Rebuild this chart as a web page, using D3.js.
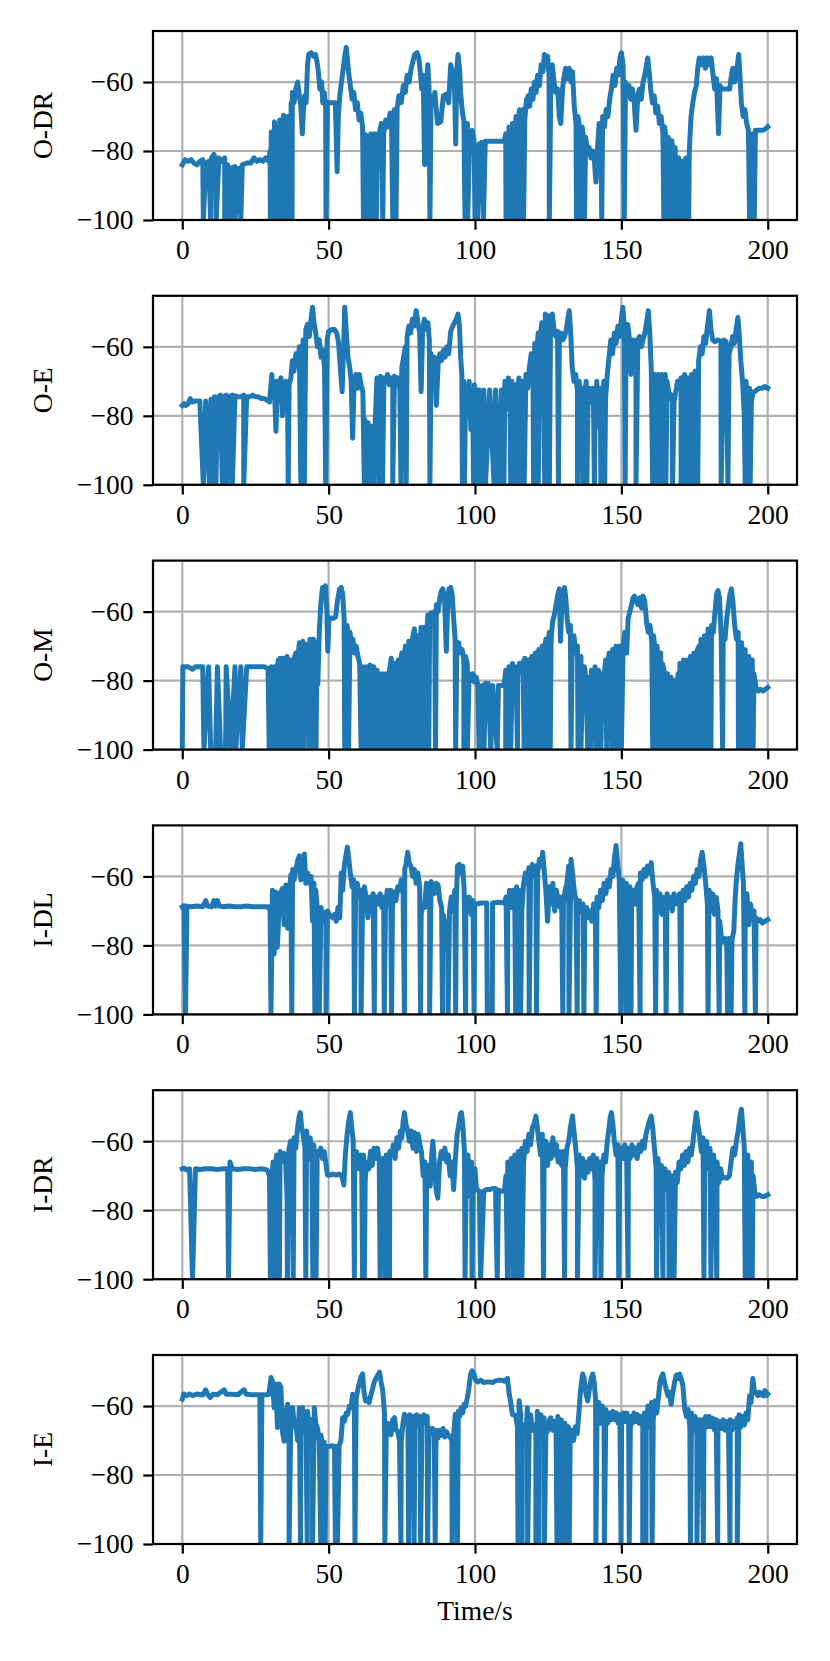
<!DOCTYPE html>
<html>
<head>
<meta charset="utf-8">
<title>RSSI traces</title>
<script src="https://cdn.jsdelivr.net/npm/d3@7"></script>
<style>
  body { margin: 0; background: #fff; }
</style>
</head>
<body>
<div id="chart"></div>
<script>
var panels = ["O-DR", "O-E", "O-M", "I-DL", "I-DR", "I-E"];
var xTicks = [0, 50, 100, 150, 200];
var yTicks = [-100, -80, -60];

// [time s, RSSI dBm]; drop-outs (to the floor) are kept as separate time lists
var oDR = [[0,-84],[1,-82.5],[2,-83],[3,-82.5],[4,-83.5],[5,-84],[6,-83],[7,-82.5],[8,-83.5],[9,-83],[10,-82],[10.8,-81],[11.5,-82.5],[12.5,-82],[13.5,-83],[14.5,-82],[15.5,-84],[16.5,-85],[18,-84.5],[19.5,-85],[20.5,-84],[22,-83.5],[23.4,-83.5],[24.5,-82],[25.5,-83],[26.5,-82.5],[27.5,-83],[28.5,-82],[29.5,-83],
[30,-80],[30.4,-74.5],[30.9,-76],[31.5,-71.5],[32,-78],[32.6,-73],[33.3,-71],[33.7,-80],[34.2,-73],[34.6,-69.6],[35.2,-75],[36,-70],[36.5,-74],[37.2,-66],
[37.6,-63],[38.2,-66],[38.8,-62],[39.4,-60],[40,-64],[40.5,-67],[41,-75],[41.4,-68],[41.8,-64],[42.3,-66],
[42.8,-55],[43.2,-52],[44,-51.5],[44.8,-52.5],[45.5,-52],[46,-54],
[46.5,-57],[47,-62],[47.6,-60],[48,-66],[48.5,-63],[49,-68],
[49.6,-66],[50.5,-66],[51.5,-66],[52.3,-66],[52.9,-86],[53.3,-70],
[53.8,-64],[54.4,-60],[55,-56],[55.6,-52],[56,-50],[56.4,-53],[56.8,-57],
[57.4,-61],[58,-65],[58.6,-63],[59.2,-68],[59.8,-66],[60.4,-71],[61,-69],[61.6,-73],[62.2,-75],
[62.8,-75.5],[63.6,-76],[64.4,-75],[65,-76],[65.8,-75],[66.6,-76],
[67.4,-74.5],[68,-72],[68.8,-75],[69.5,-71],[70.2,-73],[71,-69],[71.5,-72],[72.4,-68],[73.4,-67.5],
[74,-64],[74.8,-66],[75.5,-61],[76.2,-63],[76.8,-58],[77.5,-60],[78.2,-56],[78.8,-54],[79.4,-52],[80.2,-51.5],[80.8,-53],
[81.3,-57],[81.8,-62],[82.3,-58],[82.8,-84],[83.2,-64],[83.9,-55],[84.3,-62],
[85,-64],[85.6,-66],[86.3,-63],[87.2,-72],[88.3,-71.5],[89.2,-64],[90.2,-63.5],
[91,-66],[91.7,-55],[92.4,-58],[93,-61],[93.4,-78],[93.8,-56],[94.2,-52],[94.7,-56],[95.1,-63],[95.6,-68],[96.2,-71.5],[96.8,-73],[97.4,-72],[98.2,-75],[99,-74],[99.7,-77],[100.4,-79],
[101.4,-78],[102.2,-77.5],[103.5,-77.2],[105,-77.2],[107,-77.2],[109,-77.2],[110,-77.2],
[110.5,-75],[111,-78],[111.6,-73],[112.2,-79],[112.8,-72],[113.4,-76],[114,-70],[114.6,-75],[115.2,-68],[115.8,-73],[116.4,-68],[117,-71],[117.6,-65],
[118.2,-64],[118.7,-67],[119.2,-62],[119.8,-65],[120.3,-60],[120.9,-63],[121.4,-58],[122,-61],[122.6,-55],[123.2,-57],[123.7,-52],[124.3,-54],[124.8,-52.5],[125.3,-58],[125.9,-61],[126.4,-55],[127,-60],
[127.6,-63],[128.2,-62],[128.8,-70],[129.3,-72],[129.9,-62],[130.5,-58],[131,-56],[131.6,-59],[132.2,-56],[132.8,-60],[133.3,-57],[133.9,-67],
[134.5,-72],[135.2,-70],[135.8,-74],[136.6,-73],[137.2,-77],[137.8,-76],[138.4,-80],
[139,-79],[139.6,-82],[140.2,-80],[140.8,-83],[141.3,-89],[141.8,-80],
[142.4,-72],[143,-74],[143.6,-70],[144.2,-73],[144.8,-68],[145.4,-70],[146,-65],
[146.6,-62],[147.2,-58],[147.8,-61],[148.4,-56],[149,-58],[149.5,-53],[150,-51.5],[150.6,-55],
[151.4,-60],[152,-63],[152.6,-61],[153.2,-65],[153.8,-62],[154.4,-66],[155,-74],[155.6,-64],[156.2,-62],[156.8,-65],[157.4,-60],
[158,-58],[158.6,-55],[159,-53],[159.5,-57],
[160,-62],[160.6,-66],[161.2,-64],[161.8,-69],[162.4,-67],[163,-72],[163.6,-70],[164.2,-75],[164.8,-73],[165.4,-78],[166,-76],[166.6,-79],[167.2,-77],
[167.8,-81],[168.4,-79],[169,-84],[169.6,-82],[170.2,-88],[170.8,-83],[171.4,-86],[172,-82],[172.6,-85],[173.2,-80],
[173.8,-70],[174.4,-66],[175,-63],[175.6,-61],
[176.1,-56],[176.6,-53],[177.3,-55],[178,-53],[178.7,-56],[179.4,-53],[180.1,-55],[180.7,-53],
[181.3,-58],[181.9,-62],[182.5,-59],[183.2,-75],[183.7,-61],
[184.2,-62],[185,-62],[186,-62],[187,-62],
[187.6,-58],[188.1,-56],[188.7,-60],[189.3,-57],[189.8,-54],[190.1,-52],[190.5,-58],
[191,-66],[191.6,-70],[192.2,-68],[192.8,-72],[193.4,-74],
[194.2,-76],[195,-75],[195.8,-74],[196.5,-74],[197.5,-74],[198.5,-74],[199.3,-73.5],[200,-73]];
var oDRDrops = [7.2,9.7,11.6,14.5,16.3,18,20,30.1,30.7,31.2,31.8,32.3,33.1,33.9,34.8,35.7,36.8,37.5,49.1,61.9,63.2,64,64.7,65.5,66.3,68.5,71.9,73,84.6,96.6,97.5,100,100.9,102.9,110.6,111.4,112.4,113.5,114.4,115.5,116.6,125.4,134.7,136.3,137.4,143.3,151,164.5,165.7,167,168.5,170,171.4,173,193.8,194.6,195.4];

var oE = [[0,-77],[0.6,-76.5],[1.2,-77],[2,-76.5],[2.7,-75],[3.4,-76],[4.5,-75.7],[6,-75.7],[8,-75.7],[9.8,-75.2],[11,-74.5],[12,-74.7],[13,-74],[14,-74.5],[15,-74],[16,-74.5],[17,-74],[18,-74.2],[19,-74.5],[20,-74.5],[21,-74],[22,-74.5],[23,-74.5],[24,-74],[25,-74.5],[26,-74.5],[27,-75],[28,-75],[29,-75.5],
[29.8,-76],[30.2,-72],[30.6,-68],[31,-74],[31.4,-70],[32,-84.5],[32.5,-70],[33.1,-71],[33.7,-69],[34.2,-80],[34.8,-71],[35.4,-70],[36,-78],[36.5,-71],[37.1,-69],
[37.6,-64],[38.2,-67],[38.8,-62],[39.4,-65],[40,-60],[40.8,-63],[41.3,-58],
[42.2,-55],[42.8,-53.5],[43.4,-57],[44,-52],[44.5,-48.5],[45,-53],[45.6,-56],[46.2,-60],
[46.8,-58],[47.4,-63],[48,-61],[48.6,-66],
[49.5,-58],[50,-55.5],[51,-55],[52,-55],[52.8,-56],[53.4,-59],
[54,-66],[54.6,-73],[55.2,-58],[55.5,-48.5],[56,-55],
[56.6,-63],[57.2,-66],[57.7,-70],[58.2,-86.5],[58.7,-70],[59.3,-68],[59.9,-72],[60.5,-68],[61.1,-71],[61.7,-73],
[62.3,-81],[62.9,-85],[63.5,-82],[64.1,-87],[64.7,-83],[65.3,-86],[65.9,-82],
[66.5,-69],[67.1,-70],[67.7,-68.5],[68.3,-70],[68.9,-69],
[69.5,-70],[70.1,-68],[70.7,-71],[71.3,-69],[71.9,-70],[72.5,-68.5],[73.1,-71],[73.7,-69],[74.3,-70],
[75,-66],[75.6,-63],[76.2,-60],[76.8,-57],[77.4,-54],[78,-56],
[78.6,-52],[79.2,-54],[79.9,-49.5],[80.5,-53],[81.1,-56],[81.6,-73],[82.1,-55],[82.7,-52],[83.3,-55],[83.9,-53],[84.4,-58],
[85,-62],[85.6,-66],[86.2,-63],[86.8,-77],[87.4,-65],[88,-62],[88.6,-64],[89.2,-61],[89.8,-63],[90.4,-60],
[91,-62],[91.7,-55.5],[92.4,-54],[93,-53],[93.6,-52],[94.2,-50.5],[94.7,-54],[95.1,-63],[95.5,-68],[96.2,-70],[96.8,-72],[97.4,-80],[98,-70],[98.6,-84],[99.2,-74],[99.8,-71],
[100.6,-72.5],[101.5,-72.5],[103,-72.5],[105,-72.5],[107,-72.5],[109,-72.5],
[109.6,-74],[110.2,-70],[110.8,-78],[111.4,-69],[112,-76],[112.6,-70],[113.2,-82],[113.8,-71],[114.4,-75],[115,-69],[115.6,-84],[116.2,-70],[116.8,-74],[117.4,-68],[118,-72],[118.6,-66],
[119.2,-62],[119.8,-65],[120.4,-59],[121,-62],[121.6,-56],[122.2,-58],[122.8,-53],[123.4,-56],
[124,-50.5],[124.6,-53],[125.2,-51],[125.8,-54],[126.4,-50.5],[127,-55],
[127.6,-57],[128.2,-55.5],[128.8,-58],[129.4,-56],[130,-58],[130.6,-57],[131.2,-55],[131.7,-52],[132.2,-49.5],[132.7,-56],
[133.2,-66],[133.8,-70],[134.4,-68],[135,-73],[135.6,-70],[136.2,-76],[136.8,-72],[137.4,-74],[138,-70],[138.6,-75],[139.2,-72],[139.8,-76],
[140.4,-72],[141,-80],[141.6,-70],[142.2,-83],[142.8,-72],[143.4,-78],[144,-70],[144.6,-75],[145.2,-68],
[145.8,-63],[146.4,-58],[147,-62],[147.6,-56],[148.2,-59],[148.8,-54],[149.4,-57],[150,-52],[150.5,-48.5],[151,-54],
[151.6,-57],[152.2,-53.5],[152.8,-58],[153.3,-68],[153.8,-58],[154.4,-60],[155,-58],[155.6,-60],[156.2,-57],[156.8,-60],[157.4,-58],[158,-56],[158.6,-53],[159.2,-49.5],[159.7,-56],
[160.2,-66],[160.8,-70],[161.4,-68],[162,-70],[162.6,-68],[163.2,-71],[163.8,-68],[164.4,-70],[165,-68],[165.6,-70],
[166.2,-73],[166.8,-75],[167.4,-74],[168,-76],[168.6,-73],
[169.2,-70],[169.8,-72],[170.4,-69],[171,-71],[171.6,-68],[172.2,-72],[172.8,-69],[173.4,-71],[174,-68],[174.6,-70],[175.2,-67],[175.8,-69],
[176.4,-64],[177,-60],[177.6,-62],[178.2,-57],[178.8,-59],[179.4,-54],[180.1,-49.5],[180.6,-55],
[181.2,-58],[182,-58.5],[183,-58],[184,-58.5],[185,-58],[185.8,-58.5],
[186.8,-62],[187.4,-60],[188,-57],[188.6,-59],[189.2,-55],[189.8,-51.5],[190.3,-57],
[190.8,-64],[191.4,-70],[192,-80],[192.6,-70],[193.2,-84],[193.8,-72],[194.4,-76],[195,-73],
[195.6,-73],[196.3,-72.5],[197,-72],[198,-72],[199,-71.5],[200,-72]];
var oEDrops = [7.2,9.3,10.4,11.5,13.7,15.3,17.1,21,36.2,40.5,41.7,49,62.2,63.8,65.5,67.3,68.4,71.9,74.7,76.5,84.6,95.7,96.4,99.5,100.2,101.9,103.6,106.5,108.2,109.9,112.2,113.9,115.6,116.8,120,121.6,123.8,125.4,128.5,135,136.8,138.2,140.8,143,144.3,151.3,155,160.7,162.4,163.8,165.2,167.5,170.4,171.8,173.3,174.8,176.1,184.1,186.4,192.3,194];

var oM = [[0,-100],[0.2,-76],[2,-76],[3.5,-76.7],[4.5,-76],[7,-76],[9,-76],[12,-76],[15,-76],[18,-76],[20,-76],[22,-76],[25,-76],[28,-76],[29.3,-76.5],
[29.8,-78],[30.4,-76],[31,-77.5],[31.6,-76],[32.2,-78],
[32.8,-74],[33.4,-73.5],[34,-75.5],[34.6,-73.5],[35.2,-75],[35.8,-73],[36.4,-75.5],[37,-74],[37.6,-75],[38.2,-73.5],[38.8,-72],[39.4,-74],[40,-69],[40.6,-72],[41.2,-68.6],[41.8,-71],[42.4,-69.5],[43,-72],[43.6,-68],[44.2,-70],[44.8,-68],[45.4,-71],[46,-69],
[46.3,-81],[46.8,-66],[47.3,-58],[47.9,-53],[48.4,-55],[48.9,-52.5],
[49.4,-60],[49.7,-71.5],[50.1,-62],
[50.8,-61.8],[51.6,-62],[52.4,-61.5],
[53,-57],[53.7,-53.5],[54.3,-53],[54.8,-55],
[55.3,-62],[55.8,-66],[56.3,-64],[56.8,-68],[57.3,-66],[57.8,-70],[58.3,-68],[58.8,-72],[59.4,-70],[60,-73],
[60.6,-75],[61.2,-78],[61.8,-76],[62.4,-79],[63,-76],[63.6,-78],[64.2,-75.5],[64.8,-79],[65.4,-76],[66,-78],[66.6,-77],
[67.2,-78],[67.8,-80],[68.4,-78],[69,-80.5],[69.6,-78],[70.2,-79],[70.8,-77],
[71.4,-73.5],[72,-77],[72.6,-75],[73.2,-77],[73.8,-74],[74.4,-76],[75,-72],[75.6,-75],[76.2,-70],[76.8,-73],[77.4,-68.6],[78,-72],
[78.6,-68],[79.3,-65],[79.9,-69],[80.5,-67],[81.1,-70],[81.6,-64.5],[82.2,-68],[82.8,-64.5],[83.4,-67],[83.9,-61],[84.5,-64],[85,-60.3],[85.6,-63],[86.2,-60],
[86.8,-58],[87.4,-60],[88,-56],[88.5,-54],[89,-53.4],[89.6,-56],[90.2,-71.5],[90.6,-60],
[91.1,-53.4],[91.7,-53],[92.2,-55],
[92.7,-62],[93.2,-68],[93.8,-70],[94.4,-69],[95,-72],[95.6,-71],[96.2,-74],[96.8,-73],[97.4,-75.5],
[98,-78],[98.6,-80],[99.2,-78],[99.8,-80.4],[100.4,-79],
[101,-81.4],[102.5,-81.4],[103.5,-80.8],[104.5,-80.8],[106,-81.4],[108,-81.4],[109.9,-81.4],
[110.5,-77],[111,-80],[111.6,-76],[112.2,-79],[112.8,-75],[113.4,-78],[114,-76],[114.6,-79],[115.2,-75],[115.8,-77],[116.4,-74.5],
[117,-73.5],[117.6,-76],[118.2,-74],[118.8,-76],[119.4,-73],[120,-75],[120.6,-72],[121.2,-74],[121.8,-71],[122.4,-73],[123,-70],[123.6,-72],[124.2,-68],[124.8,-70],[125.4,-66],[126,-68],
[126.5,-63],[127.1,-61],[127.7,-58],[128.3,-55],[128.8,-53.4],[129.2,-68.6],
[129.7,-58],[130.2,-54],[130.6,-53],[131,-56],
[131.5,-62],[132,-66],[132.6,-64],[133.2,-69],[133.8,-67],[134.4,-72],[135,-70],[135.6,-75],[136.2,-73],[136.8,-78],[137.4,-76],[138,-81],[138.6,-79],
[139.2,-81],[139.8,-77],[140.4,-82],[141,-76],[141.6,-81],[142.2,-77],[142.8,-82],[143.4,-78],[144,-80],
[144.6,-74],[145.2,-78],[145.8,-72],[146.4,-76],[147,-71],[147.6,-75],[148.2,-70],[148.8,-73],[149.4,-70],[150,-72],[150.6,-70],
[151.2,-66],[151.8,-72],[152.3,-62],[152.9,-60],[153.5,-58],[154,-56],
[154.5,-55.5],[155.1,-57],[155.7,-58],[156.3,-56],[156.9,-59],[157.4,-55.5],[158,-57],
[158.6,-63],[159.2,-66],[159.8,-64],[160.4,-69],[161,-67],[161.6,-72],[162.2,-70],[162.8,-74],[163.4,-72],[164,-75],
[164.6,-77],[165.2,-80],[165.8,-78],[166.4,-83],[167,-79],[167.6,-84],[168.2,-80],[168.8,-83],
[169.4,-78],[170,-75],[170.6,-80],[171.2,-74],[171.8,-79],[172.4,-74],[173,-78],[173.6,-73],[174.2,-77],[174.8,-72],[175.4,-75],[176,-71],
[176.6,-70],[177.2,-68],[177.8,-71],[178.4,-67],[179,-69],[179.6,-65],[180.2,-68],[180.8,-64],[181.4,-66],
[182,-60],[182.5,-55],[183,-53.9],[183.5,-56],
[184.1,-67],[184.8,-66],[185.4,-68],
[186,-62],[186.6,-58],[187.1,-55],[187.6,-53.4],[188.1,-57],
[188.7,-64],[189.3,-68],[189.9,-66],[190.5,-71],[191.1,-69],[191.7,-73],[192.3,-71],[192.9,-75],[193.5,-73],[194.1,-76],[194.7,-74],[195.3,-78],
[196,-82],[196.8,-83],[197.6,-82.5],[198.4,-83],[199.2,-82.5],[200,-82]];
var oMDrops = [7.4,9.7,11.4,13.1,14.8,16.6,18.3,20.5,29.7,30.3,30.9,31.5,32.1,33.1,34.2,35.4,36.5,37.7,38.8,40.3,41.5,43.3,44.5,45.7,55.5,56.8,61.1,62.7,63.4,64.5,65.6,66.8,67.8,69,70.3,71.8,73,74.3,75.5,76.8,78,79.6,80.8,82,83.2,84.2,86.5,93.4,96.2,97.4,101.4,103.1,105.4,107.6,110.5,112.2,114.5,116.8,117.4,118.6,119.8,121,122.3,123.5,124.5,125.7,132.8,135.2,136.2,138.5,139.5,141.3,143,145,146.8,148.3,150,160.7,162.3,163.8,164.8,166,167.3,168.5,169.6,170.9,172,173.2,174.4,175.7,177,178.2,179.4,180.6,184.6,190,191.5,192.6,193.8,195];

var iDL = [[0,-68.8],[0.6,-68.5],[1.6,-68.6],[3,-68.8],[5,-68.6],[7,-68.8],[8,-67],[8.6,-68.6],[10,-68.8],[10.8,-67],[11.4,-68.6],[12,-67],[12.6,-68.6],[14,-68.8],[16,-68.6],[18,-68.8],[20,-68.8],[22,-68.6],[24,-68.8],[26,-68.8],[28,-68.8],[29.5,-68.8],
[30,-70],[30.8,-64],[31.4,-82.5],[32,-64.5],[32.5,-80.5],[33.1,-68],[33.7,-64.5],[34.2,-63.5],[34.8,-74],[35.4,-62.5],[36,-75],[36.6,-64],[37.1,-59.5],
[37.7,-58],[38.2,-61],[38.8,-58],[39.4,-55.5],[40,-54],[40.5,-61],[41.1,-55.5],[41.7,-53.5],[42.2,-62],[42.8,-59],
[43.4,-62],[44,-60],[44.5,-73],[45,-62],[45.6,-64],
[46.2,-70],[46.8,-74],[47.4,-69],[48,-72],[48.6,-70.5],[49.1,-74],
[49.6,-70],[50.2,-71],[50.8,-71.5],
[51.4,-72],[52,-71],[52.6,-73],[53.2,-69],[53.8,-72],[54.3,-59],[54.8,-64],[55.4,-56.5],
[55.9,-54],[56.4,-51.5],[56.9,-55],
[57.4,-59],[58,-63],[58.6,-61],[59.2,-66],[59.8,-62],[60.4,-66],[61,-64],[61.6,-67],[62.2,-63],
[62.8,-66],[63.4,-72],[64,-66],
[64.6,-67],[65.2,-65],[65.8,-68],[66.4,-66],[67,-68],[67.6,-65],[68.2,-69],
[68.8,-66],[69.4,-70],[70,-64],[70.6,-68],[71.2,-64],[71.8,-69],[72.4,-64.5],[73,-67],[73.6,-63],
[74.2,-64],[74.8,-61],[75.4,-63],[76,-58],[76.5,-56],[77,-53],[77.5,-56],[78.1,-57],
[78.7,-60],[79.3,-58],[79.9,-62],[80.5,-59],[81.1,-63],[81.6,-71],[82.2,-68],[82.8,-69],[83.4,-62],[83.9,-64],[84.5,-66],[85,-61.5],[85.6,-63],
[86.2,-65],[86.8,-62],[87.4,-62.5],[88,-67],[88.6,-69],[89.1,-71],[89.6,-73],[90.2,-81],[90.8,-74],
[91.3,-70],[91.9,-66],[92.5,-70],[93.1,-64],[93.6,-68],[94,-57],[94.6,-56.5],[95.2,-59],[95.8,-57],[96.3,-64],
[96.9,-66],[97.5,-70],[98.1,-66],[98.7,-71],[99.3,-67],[99.9,-68],
[100.5,-68],[102,-67.7],[104,-67.7],[106,-67.7],[108,-67.5],[110,-67.7],
[110.6,-66],[111.2,-70],[111.8,-64],[112.4,-69],[113,-64],[113.6,-70],[114.2,-63],[114.8,-68],[115.4,-64],[116,-70],[116.6,-62],
[117.2,-59],[117.8,-62],[118.4,-57.5],[119,-60],[119.6,-56.5],[120.2,-60],[120.8,-57],[121.4,-59],[122,-55],[122.6,-57],[123.1,-53],
[123.6,-58],[124.2,-64],[124.8,-73],[125.4,-63],[126,-68],[126.6,-62],[127.2,-70],[127.8,-64],
[128.4,-67],[129,-69],[129.6,-66],[130.2,-68],[130.8,-64],[131.4,-62],[132,-57],[132.8,-55],[133.3,-59],[133.9,-64],[134.5,-67],[135.1,-69],[135.7,-67],[136.3,-70],[136.9,-68],[137.5,-71],[138.1,-69],[138.7,-72],[139.3,-70],[139.9,-73],
[140.5,-68],[141.1,-70],[141.7,-66],[142.3,-69],[142.9,-64],[143.5,-67],[144.1,-62],[144.7,-65],[145.3,-61],[145.9,-63],[146.5,-58],[147.1,-60],[147.6,-55],[148.2,-51],[148.7,-56],
[149.3,-61],[149.9,-66],[150.5,-61],[151.1,-67],[151.7,-62],[152.3,-68],[152.9,-63],[153.5,-69],[154.1,-64],[154.7,-68],[155.3,-63],
[155.9,-62],[156.5,-59],[157.1,-61],[157.7,-58],[158.3,-60],[158.9,-57],[159.5,-59],[160.2,-56],
[160.8,-62],[161.4,-66],[162,-64],[162.6,-70],[163.2,-65],[163.8,-71],[164.4,-66],[165,-70],[165.6,-65],[166.2,-69],[166.8,-66],[167.4,-70],[168,-65],[168.6,-68],
[169.3,-67],[169.9,-65],[170.5,-68],[171.1,-64],[171.7,-67],[172.3,-63],[172.9,-66],[173.5,-62],[174.1,-64],[174.7,-60],[175.3,-62],[175.9,-58],[176.5,-60],[177.1,-55],[177.6,-53],[178.2,-57],
[178.8,-62],[179.4,-68],[180,-64],[180.6,-70],[181.2,-65],[181.8,-71],[182.4,-66],[183,-70],[183.6,-73],
[184.2,-78],[184.8,-79],[185.4,-78],[186,-79],[186.6,-78],[187.2,-79],[187.8,-78],[188.4,-76],
[188.9,-66],[189.4,-60],[189.9,-56],[190.4,-53],[190.8,-50.5],[191.2,-56],
[191.7,-62],[192.3,-70],[192.9,-65],[193.5,-74],[194.1,-68],[194.7,-72],[195.3,-70],
[196,-72],[196.7,-73],[197.4,-72.5],[198.2,-73.5],[199,-73],[200,-72.5]];
var iDLDrops = [1.1,30.3,37.4,45.3,46.8,49.1,58.8,61.1,65.6,69,71.5,75.9,81.4,84.5,88.9,90.8,93.4,96.8,99.7,104.2,105.9,111.1,113.9,115.6,118.5,121,130,132.1,134.9,137.2,141.4,149.8,151.6,153.3,156.4,161.7,165.3,170.4,179.6,183.4,186.3,187.5,192.2,195.8];

var iDR = [[0,-68],[0.6,-67.8],[1.5,-68.3],[2.5,-68],[4.5,-68],[6,-68.2],[8,-68],[10,-68],[12,-68.2],[14,-68],[15.5,-68],[16.3,-66],[17,-68],[19,-68.2],[21,-68],[23,-68],[25,-68.2],[27,-68],[29,-68.3],
[29.8,-70],[30.4,-75],[31,-66],[31.6,-78],[32.2,-64],
[32.8,-65],[33.4,-63],[34,-66],[34.6,-63.5],[35.2,-64],[35.8,-76],[36.4,-62.5],[37,-60],
[37.6,-61],[38.2,-59],[38.8,-62],[39.4,-56],[39.9,-53],[40.3,-51.7],[40.8,-56],
[41.3,-58],[41.9,-62],[42.5,-57],[43.1,-65],[43.7,-59],[44.3,-66],[44.9,-61],[45.5,-68],[46.1,-63],
[46.7,-64],[47.3,-62],[47.9,-65],[48.5,-63],[49,-66],
[49.6,-69.8],[50.5,-69.8],[51.5,-69.5],[52.5,-69.8],[53.5,-69.5],[54.5,-70],[55.2,-72.7],[55.7,-64],
[56.3,-58],[56.9,-54],[57.4,-51.7],[57.9,-56],
[58.4,-60],[58.9,-67],[59.5,-63],[60.1,-68],[60.7,-64],[61.3,-67],[61.9,-64],[62.5,-70.7],[63.1,-66],[63.7,-68],[64.3,-63],[64.9,-67],[65.5,-62],[66.1,-65],[66.7,-62],
[67.3,-66],[67.9,-72],[68.5,-65],[69.1,-72.5],[69.7,-64],[70.3,-70],[70.9,-63],
[71.5,-64],[72.1,-61],[72.7,-65],[73.3,-59],[73.9,-62],[74.5,-57],[75,-59],[75.5,-54],[75.9,-51.7],[76.4,-55],
[77,-57],[77.6,-60],[78.2,-57],[78.8,-62],[79.4,-57.5],[80,-63],[80.6,-58],[81.2,-61],
[81.7,-63],[82.3,-70],[82.9,-66],[83.5,-69],[84.1,-67],[84.7,-73],[85.2,-64],[85.6,-60],[86.2,-68],[86.7,-74],[87.3,-76.5],
[87.9,-66],[88.5,-63],[89.1,-65],[89.7,-62],[90.3,-66],[90.9,-64],
[91.5,-70],[92.1,-66],[92.7,-74],
[93.3,-65],[93.9,-58],[94.5,-55],[95,-52],[95.4,-51.7],[95.9,-56],
[96.4,-63],[97,-70],[97.6,-64],[98.2,-76],[98.8,-66],[99.4,-71],[100,-68],
[100.5,-74],[101.5,-74.5],[103,-74.5],[104,-74],[105,-74],[106,-73.7],[107,-73.7],[108,-74.2],[109,-74.5],[110,-74.5],
[110.6,-70],[111.2,-66],[111.8,-72],[112.4,-65],[113,-71],[113.6,-64],[114.2,-70],[114.8,-63],[115.4,-69],[116,-62],[116.6,-66],
[117.2,-60],[117.8,-63],[118.4,-58],[119,-61],[119.6,-56],[120.2,-55],[120.8,-52.7],[121.3,-56],[121.8,-60],
[122.4,-64],[123,-58],[123.6,-66],[124.2,-60],[124.8,-67],[125.4,-61],[126,-65],[126.6,-59],[127.2,-64],[127.8,-61],[128.4,-66],[129,-63],
[129.6,-67],[130.2,-63],[130.8,-68],[131.4,-62],[132,-60],[132.6,-56],[133.3,-52.7],[133.8,-57],[134.4,-62],[135,-68],[135.6,-64],[136.2,-70],[136.8,-65],[137.4,-70.7],[138,-66],[138.6,-69],[139.2,-65],
[139.8,-68],[140.4,-64],[141,-71],[141.6,-65],[142.2,-72],[142.8,-66],[143.4,-70],[144,-64],[144.6,-66],[145.2,-60],[145.8,-56],
[146.2,-53],[146.6,-51.7],[147.1,-55],
[147.6,-60],[148.2,-64],[148.8,-61],[149.4,-65],[150,-62],[150.6,-65],[151.2,-61],[151.8,-64],[152.4,-62],[153,-65],[153.6,-61],[154.2,-64],[154.8,-62],[155.4,-65],[156,-61],[156.6,-63],[157.2,-60],[157.8,-62],
[158.4,-58],[159,-56],[159.6,-54],[160.2,-52.7],[160.7,-56],
[161.3,-62],[161.9,-68],[162.5,-65],[163.1,-72],[163.7,-67],[164.3,-73],[164.9,-68],[165.5,-74],[166.1,-69],[166.7,-74],[167.3,-70],[167.9,-74],[168.5,-69],[169.1,-72],
[169.7,-66],[170.3,-68],[170.9,-64],[171.5,-67],[172.1,-63],[172.7,-66],[173.3,-62],[173.9,-64],[174.5,-60],
[175,-56],[175.6,-51.7],[176.1,-55],
[176.7,-58],[177.3,-63],[177.9,-59],[178.5,-66],[179.1,-60],[179.7,-68],[180.3,-62],[180.9,-70],[181.5,-64],[182.1,-71],[182.7,-66],[183.3,-72],[183.9,-68],
[184.5,-70.7],[185.3,-70.5],[186.1,-70.7],[186.9,-70],
[187.5,-66],[188.1,-62],[188.7,-64],[189.3,-60],[189.9,-57],[190.5,-53],[191,-50.7],[191.5,-56],
[192,-62],[192.6,-68],[193.2,-64],[193.8,-72],[194.4,-66],[195,-70],
[195.6,-75],[196.3,-76],[197,-75.5],[198,-76],[199,-76],[200,-75.5]];
var iDRDrops = [3.5,15.8,30.1,31.3,32.6,33.2,35.9,37.9,42.2,44.6,45.7,58.8,61.6,62.2,67.6,69.4,70.8,83.2,96.6,99,101.9,107.6,111.1,112.9,114.5,116,123.4,130.6,135,141,143,149.1,152.3,162,164.2,166.3,168,178.2,180.6,182.6,192.3,193.6,194.7];

var iE = [[0,-58],[0.5,-56.5],[1.5,-57],[2.5,-56.5],[3.5,-57],[5,-56.5],[7,-56.8],[8,-55.3],[8.6,-56.5],[9.5,-57.5],[10.5,-56.6],[12,-56.7],[14.3,-55.3],[15,-56.6],[17,-56.6],[19,-56.7],[21.1,-55.3],[21.8,-56.6],[24,-56.7],[26.5,-56.7],[27.2,-56.7],[28.5,-56.7],[29.5,-56.7],
[29.9,-54.6],[30.3,-51.7],[30.8,-52.7],[31.4,-60.5],[32,-53.6],[32.5,-66.3],[33.1,-53.6],[33.7,-54.6],
[34.2,-67.3],[34.8,-70.2],[35.4,-62],[36,-59.5],[36.5,-72],[37.1,-63],[37.7,-60.5],[38.3,-66],[38.8,-65],[39.4,-70],[40,-60.5],[40.5,-66],[41.1,-60.5],[41.7,-67.5],[42.2,-63],[42.8,-61.5],[43.4,-68],[43.9,-64],[44.5,-70],[45.1,-60.5],[45.6,-65],[46.2,-66.5],[46.8,-70],[47.4,-68.5],[48,-72],[48.5,-70.5],[49.1,-72],
[49.7,-71.7],[50.5,-71.7],[51.3,-71.5],[52,-71.7],[52.8,-71.7],[53.6,-71.5],[54.2,-70],
[54.8,-63.4],[55.4,-64.4],[56,-62],[56.5,-62.4],[57.1,-60],[57.6,-60.5],[58.2,-56.6],[58.8,-58.5],
[59.4,-58],[60,-55],[60.6,-53],[61.1,-51.5],[61.6,-50.7],[62.1,-56],
[62.6,-58.5],[63.2,-58],[63.8,-59],[64.4,-57],
[65,-55],[65.6,-53],[66.2,-52],[66.8,-51],[67.4,-50.2],[67.9,-53],
[68.5,-55.6],[69.1,-62.4],[69.7,-66],[70.2,-65],[70.8,-68],[71.3,-68.3],[71.9,-64],[72.5,-63.4],[73,-67],[73.6,-67.3],[74.2,-70],[74.8,-70.2],[75.4,-65],[75.9,-62.4],
[76.5,-63],[77.1,-65.5],[77.7,-62.5],[78.3,-66],[78.9,-63],[79.5,-65],[80.1,-62.5],[80.7,-66],[81.3,-63],[81.9,-65.5],[82.5,-62.5],[83.1,-65],[83.7,-63],
[84.3,-66.3],[84.9,-68],[85.5,-66.5],[86.1,-69],[86.7,-67],[87.3,-69.3],[87.9,-67],[88.5,-68.5],[89.1,-66.5],[89.7,-69],[90.3,-67.5],[90.9,-68.5],
[91.5,-69],[92.1,-70],[92.7,-68],
[93.3,-62.4],[93.8,-64],[94.3,-61.5],[94.8,-63],[95.3,-60.5],[95.8,-62],[96.3,-59.5],[96.8,-60],[97.4,-57.5],[97.9,-55],[98.5,-50.7],[99,-49.8],[99.6,-50.5],
[100.2,-52.5],[101,-53],[102,-52.5],[103,-53.2],[104,-53],[105,-53],[106,-53.2],[107,-52.7],[108,-52.5],[109,-52.5],[110,-52.8],[110.5,-52.5],
[111.1,-52],[111.6,-56],[112.2,-59],[112.8,-62.5],
[113.4,-62.5],[113.9,-63],[114.5,-66],[115.1,-58.5],[115.6,-62.5],[116.2,-67],[116.8,-65.5],[117.4,-68],[117.9,-60.5],[118.5,-66],[119,-62.5],[119.6,-67],[120.2,-65.5],[120.8,-68],[121.3,-61.5],[121.9,-66],[122.5,-62.5],[123.1,-67],[123.6,-63.4],[124.2,-68],[124.8,-67.3],[125.4,-64],[125.9,-63.4],[126.5,-67],[127.1,-64.4],[127.7,-68],
[128.3,-63],[128.9,-66],[129.5,-64],[130.1,-68],[130.7,-65],[131.3,-70],[131.9,-66],[132.5,-70.2],[133.1,-67],[133.7,-70],[134.3,-66],[134.9,-68],
[135.5,-62],[136,-56],[136.4,-53],[136.8,-50.7],[137.3,-52],[137.8,-56],[138.5,-58.5],[139.1,-55],[139.7,-52],[140.2,-50.7],[140.7,-53],
[141.2,-58],[141.7,-63],[142.3,-59],[142.9,-65],[143.5,-60],[144.1,-66],[144.7,-61],[145.3,-65],[145.9,-62],[146.5,-64],
[147.1,-61.5],[147.7,-64],[148.3,-62],[148.9,-65],[149.5,-62.5],[150.1,-65.4],[150.7,-62],[151.3,-64.5],[151.9,-62],[152.5,-65],[153.1,-63],[153.7,-65],[154.3,-62],[154.9,-64.5],[155.5,-62.5],[156.1,-65],[156.7,-63],[157.3,-65.4],
[157.9,-62],[158.5,-67],[159.1,-60],[159.7,-66],[160.3,-59],[160.9,-64],[161.5,-58.5],[162.1,-62],
[162.7,-57],[163.2,-53],[163.7,-51.5],[164.2,-50.7],[164.7,-53],[165.3,-55],[165.9,-57],[166.4,-56],[167,-59.5],[167.6,-56],[168.2,-53],[168.8,-51],[169.4,-52],[169.9,-50.7],[170.4,-52],[171,-54],
[171.6,-60.5],[172.2,-63],[172.8,-61],[173.4,-66],[174,-62],[174.6,-67],[175.2,-63],[175.8,-68],[176.4,-64],[177,-68.3],[177.6,-64],[178.2,-67],[178.8,-63],[179.4,-66],[180,-63],[180.6,-66],
[181.2,-63.5],[181.8,-67],[182.4,-64],[183,-67.3],[183.6,-64.5],[184.2,-66.5],[184.8,-64],[185.4,-67],[186,-64.5],[186.6,-66],[187.2,-64],[187.8,-67],[188.4,-64.5],[189,-66],[189.6,-63.5],
[190.2,-62.5],[190.8,-66],[191.4,-63],[192,-65.5],[192.6,-62],[193.2,-64],[193.8,-57],[194.3,-59],[194.9,-52],[195.5,-56],
[196,-56],[196.6,-57],[197.2,-56],[197.8,-56.5],[198.4,-57],[199,-55.5],[199.5,-57],[200,-56.5]];
var iEDrops = [26.8,36.5,40.4,42.7,44.5,47.3,48.8,52.3,53,59,69.2,74.7,77.3,79.2,81.4,83.8,86.4,92.2,94,114.7,116.1,118,120.8,121.8,123.7,128,129.5,130.5,132.2,141.3,144.2,149.9,152.7,157.3,158.4,160.5,173.6,175.8,178,182.9,187.1,189.6];

var series = [oDR, oE, oM, iDL, iDR, iE];
var drops = [oDRDrops, oEDrops, oMDrops, iDLDrops, iDRDrops, iEDrops];

var W = 830, H = 1661;
var left = 153, right = 797, axH = 189, top0 = 31, step = 264.8;
var font = '"Liberation Serif", "DejaVu Serif", serif';
var fs = 27.5;

var svg = d3.select('#chart').append('svg')
    .attr('width', W).attr('height', H)
    .style('background', '#fff');

var x = d3.scaleLinear().domain([-10, 210]).range([left, right]);

panels.forEach(function(name, i) {
  var top = top0 + i * step;
  var y = d3.scaleLinear().domain([-100, -45.2]).range([top + axH, top]);
  var g = svg.append('g');

  // grid
  g.selectAll('.gx').data(xTicks).enter().append('line')
    .attr('x1', function(d) { return x(d); }).attr('x2', function(d) { return x(d); })
    .attr('y1', top).attr('y2', top + axH)
    .attr('stroke', '#b0b0b0').attr('stroke-width', 2.2);
  g.selectAll('.gy').data(yTicks).enter().append('line')
    .attr('x1', left).attr('x2', right)
    .attr('y1', function(d) { return y(d); }).attr('y2', function(d) { return y(d); })
    .attr('stroke', '#b0b0b0').attr('stroke-width', 2.2);

  svg.append('clipPath').attr('id', 'clip' + i)
    .append('rect').attr('x', left).attr('y', top)
    .attr('width', right - left).attr('height', axH);

  // merge the drop-outs into the trace
  var pts = series[i].concat(drops[i].map(function(t) { return [t, -100]; }))
    .sort(function(a, b) { return a[0] - b[0]; });

  var line = d3.line()
    .x(function(d) { return x(d[0]); })
    .y(function(d) { return y(d[1]); });

  g.append('path').datum(pts)
    .attr('clip-path', 'url(#clip' + i + ')')
    .attr('d', line)
    .attr('fill', 'none')
    .attr('stroke', '#1f77b4')
    .attr('stroke-width', 5)
    .attr('stroke-linejoin', 'round')
    .attr('stroke-linecap', 'square');

  // axes
  var ax = g.append('g')
    .attr('transform', 'translate(0,' + (top + axH) + ')')
    .call(d3.axisBottom(x).tickValues(xTicks).tickSize(9.7).tickPadding(9.7));
  var ay = g.append('g')
    .attr('transform', 'translate(' + left + ',0)')
    .call(d3.axisLeft(y).tickValues(yTicks).tickSize(9.7).tickPadding(9.7));
  [ax, ay].forEach(function(a) {
    a.select('.domain').remove();
    a.attr('font-size', fs).attr('font-family', font);
    a.selectAll('line').attr('stroke', '#000').attr('stroke-width', 2.2);
    a.selectAll('text').attr('fill', '#000');
  });

  g.append('rect')
    .attr('x', left).attr('y', top)
    .attr('width', right - left).attr('height', axH)
    .attr('fill', 'none').attr('stroke', '#000').attr('stroke-width', 2.2);

  g.append('text')
    .attr('transform', 'translate(42,' + (top + axH / 2) + ') rotate(-90)')
    .attr('text-anchor', 'middle')
    .attr('dy', '0.35em')
    .attr('font-family', font).attr('font-size', fs)
    .text(name);
});

svg.append('text')
  .attr('x', (left + right) / 2)
  .attr('y', top0 + 5 * step + axH + 76)
  .attr('text-anchor', 'middle')
  .attr('font-family', font).attr('font-size', fs)
  .text('Time/s');
</script>
</body>
</html>
